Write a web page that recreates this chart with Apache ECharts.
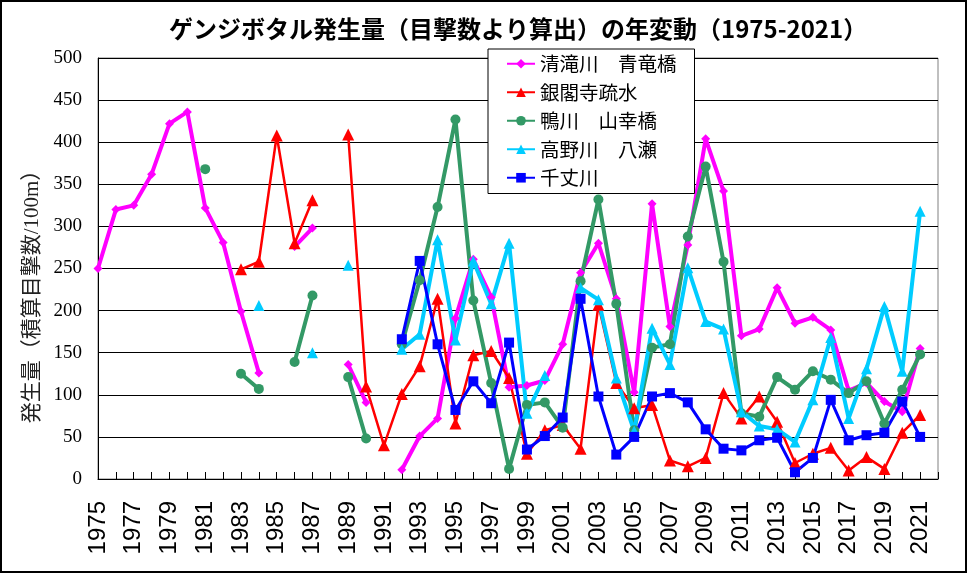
<!DOCTYPE html>
<html>
<head>
<meta charset="utf-8">
<script src="https://cdn.jsdelivr.net/npm/echarts@6/dist/echarts.min.js"></script>
<style>
html,body{margin:0;padding:0;background:#fff;}
#chart{width:967px;height:573px;}
</style>
</head>
<body>
<div id="chart"></div>
<script>
const years = [];
for (let y = 1975; y <= 2022; y++) years.push(String(y));

const seriesNames = ['清滝川　青竜橋', '銀閣寺疏水', '鴨川　山幸橋', '高野川　八瀬', '千丈川'];

// 1975 ... 2022
const kiyotaki = [250,320,325,362,422,436,322,281,199,126,null,276,298,null,136,91,null,11,51,72,191,261,216,109,111,117,160,245,280,214,103,327,181,278,404,342,170,178,227,185,192,177,105,114,92,80,155,null];
const ginkakuji = [null,null,null,null,null,null,null,null,249,258,408,280,331,null,409,110,40,101,134,214,66,147,152,120,30,58,64,36,207,114,84,88,22,15,25,102,72,98,68,19,30,37,10,26,12,55,76,null];
const kamogawa = [null,null,null,null,null,null,368,null,125,107,null,139,218,null,121,48,null,160,236,323,427,212,114,12,88,91,61,235,332,208,58,156,160,288,371,258,78,74,121,106,128,118,102,116,66,106,148,null];
const takano = [null,null,null,null,null,null,null,null,null,206,null,null,150,null,254,null,null,154,172,284,165,259,208,280,78,123,null,227,213,120,57,179,136,251,187,178,80,63,59,44,94,168,72,131,205,128,318,null];
const senjo = [null,null,null,null,null,null,null,null,null,null,null,null,null,null,null,null,null,166,259,160,82,116,90,162,35,51,73,214,98,29,50,98,102,91,59,36,34,46,49,8,25,94,46,52,55,92,50,null];

const colors = ['#FF00FF', '#FF0000', '#339966', '#00CCFF', '#0000FF'];
const symbols = ['diamond', 'triangle', 'circle', 'triangle', 'rect'];
const symbolSizes = [9, 12, 10, 11, 10];
const lineWidths = [4, 2.5, 4, 4, 3];
const dataSets = [kiyotaki, ginkakuji, kamogawa, takano, senjo];

const chart = echarts.init(document.getElementById('chart'), null, {renderer: 'canvas'});

const series = seriesNames.map((n, k) => ({
  name: n,
  type: 'line',
  data: dataSets[k],
  connectNulls: false,
  symbol: symbols[k],
  symbolSize: symbolSizes[k],
  showAllSymbol: true,
  lineStyle: {color: colors[k], width: lineWidths[k]},
  itemStyle: {color: colors[k], borderWidth: 0},
  emphasis: {disabled: true},
  animation: false
}));

chart.setOption({
  animation: false,
  backgroundColor: '#fff',
  title: {
    text: 'ゲンジボタル発生量（目撃数より算出）の年変動（1975-2021）',
    left: 164,
    top: 12,
    textStyle: {
      fontFamily: '"Noto Sans CJK JP", sans-serif',
      fontSize: 24,
      fontWeight: 'bold',
      color: '#000'
    }
  },
  legend: {
    orient: 'vertical',
    left: 488,
    top: 49,
    padding: [5, 18, 6, 18],
    itemGap: 9,
    itemWidth: 28,
    itemHeight: 12,
    backgroundColor: '#fff',
    borderColor: '#000',
    borderWidth: 1,
    borderRadius: 0,
    textStyle: {
      fontFamily: '"Noto Sans CJK JP", sans-serif',
      fontSize: 19.5,
      color: '#000'
    },
    data: seriesNames
  },
  grid: {
    left: 98,
    right: 29,
    top: 58,
    bottom: 94,
    show: true,
    borderColor: '#808080',
    borderWidth: 1,
    backgroundColor: 'transparent'
  },
  xAxis: {
    type: 'category',
    data: years,
    boundaryGap: false,
    axisLine: {show: true, lineStyle: {color: '#000', width: 1}},
    axisTick: {show: true, inside: true, length: 7, interval: 0, lineStyle: {color: '#000'}},
    axisLabel: {
      interval: 1,
      rotate: 90,
      margin: 22,
      fontFamily: '"Liberation Sans", Arial, sans-serif',
      fontSize: 24,
      color: '#000'
    },
    splitLine: {show: false}
  },
  yAxis: {
    type: 'value',
    min: 0,
    max: 500,
    interval: 50,
    name: '発生量（積算目撃数/100m）',
    nameLocation: 'middle',
    nameRotate: 90,
    nameGap: 54,
    nameTextStyle: {
      fontFamily: '"Liberation Serif", "Noto Sans CJK JP", serif',
      fontSize: 21,
      color: '#222',
      padding: [0, 46, 0, 0]
    },
    axisLine: {show: true, lineStyle: {color: '#000', width: 1}},
    axisTick: {show: false},
    axisLabel: {
      margin: 16,
      fontFamily: '"Liberation Serif", "Times New Roman", serif',
      fontSize: 19,
      color: '#000'
    },
    splitLine: {show: true, lineStyle: {color: '#000', width: 1}}
  },
  graphic: [{
    type: 'rect',
    shape: {x: 1, y: 1, width: 965, height: 571},
    style: {fill: 'none', stroke: '#000', lineWidth: 2},
    silent: true,
    z: 100
  }],
  series: series
});
</script>
</body>
</html>
